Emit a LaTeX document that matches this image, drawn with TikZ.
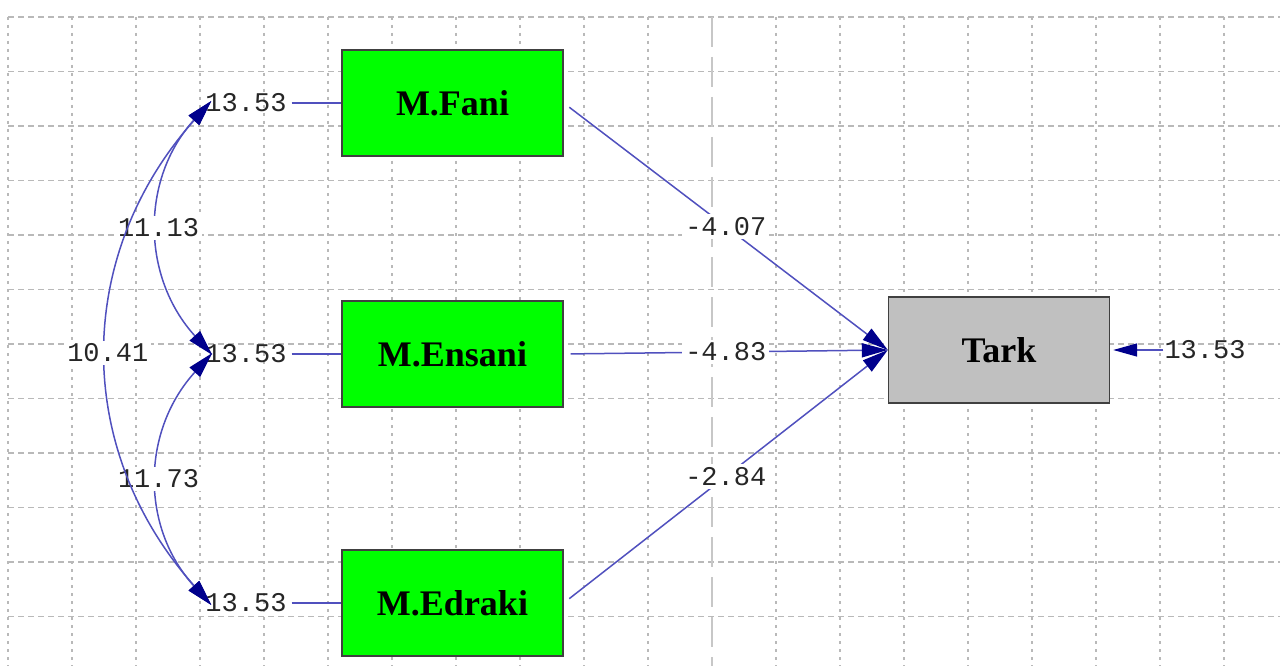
\documentclass[tikz,border=0pt]{standalone}
\usepackage{fontspec}
\setmonofont{Liberation Mono}
\newfontfamily\boxfont{Liberation Serif}
\usetikzlibrary{arrows.meta}

\definecolor{linkblue}{RGB}{80,80,190}
\definecolor{headblue}{RGB}{0,0,140}
\definecolor{boxgreen}{RGB}{0,255,0}
\definecolor{boxgray}{RGB}{192,192,192}
\definecolor{gridgray}{RGB}{185,185,185}

\begin{document}
\begin{tikzpicture}[x=1pt,y=-1pt,
    >={Triangle[length=26pt,width=14pt,color=headblue]},
    var/.style={draw=black!75, line width=1.4pt, minimum width=221pt,
        minimum height=106pt, font=\boxfont\bfseries\fontsize{36}{36}\selectfont},
    num/.style={font=\ttfamily\fontsize{27}{27}\selectfont, text=black!85, inner sep=1pt},
    lbl/.style={num, fill=white, inner sep=3pt},
    link/.style={draw=linkblue, line width=1.5pt},
    gridh/.style={gridgray, line width=1.3pt, dash pattern=on 6pt off 4pt},
    gridv/.style={gridgray, line width=1.3pt, dash pattern=on 3pt off 5pt}]

    % Размер картинки
    \useasboundingbox (0,0) rectangle (1280,666);
    \fill[white] (0,0) rectangle (1280,666);

    % Сетка
    \foreach \k in {0,...,11}
        \draw[gridh] (8,17+54.5*\k) -- (1280,17+54.5*\k);
    \foreach \k in {0,...,19}
    {
        \ifnum\k=11
            \draw[gridgray!80, line width=1.5pt, dash pattern=on 30pt off 10pt] (8+64*\k,17) -- (8+64*\k,666);
        \else
            \draw[gridv] (8+64*\k,17) -- (8+64*\k,666);
        \fi
    }

    % Переменные
    \node[var, fill=boxgreen] (fani)   at (452.5,103) {M.Fani};
    \node[var, fill=boxgreen] (ensani) at (452.5,354) {M.Ensani};
    \node[var, fill=boxgreen] (edraki) at (452.5,603) {M.Edraki};
    \node[var, fill=boxgray]  (tark)   at (999,350)   {Tark};

    % Ошибки
    \node[num] (efani)   at (246,103) {13.53};
    \node[num] (eensani) at (246,354) {13.53};
    \node[num] (eedraki) at (246,603) {13.53};
    \node[num] (etark)   at (1205,350) {13.53};

    \draw[link, shorten <=4pt] (efani) -- (fani);
    \draw[link, shorten <=4pt] (eensani) -- (ensani);
    \draw[link, shorten <=4pt] (eedraki) -- (edraki);
    \draw[link, ->, >={Triangle[length=24pt,width=13pt,color=headblue]}, shorten >=3pt] (etark) -- (tark);

    % Ковариации
    \draw[link, <->] ([xshift=7pt,yshift=2pt]efani.west)
        .. controls +(-71,78) and +(-71,-78) .. ([xshift=8pt,yshift=-1pt]eensani.west)
        node[lbl, pos=0.5] {11.13};
    \draw[link, <->] ([xshift=8pt,yshift=1pt]eensani.west)
        .. controls +(-71,78) and +(-71,-78) .. ([xshift=7pt,yshift=-2pt]eedraki.west)
        node[lbl, pos=0.5] {11.73};
    \draw[link, <->] ([xshift=7pt,yshift=2pt]efani.west)
        .. controls +(-138,155) and +(-138,-155) .. ([xshift=7pt,yshift=-2pt]eedraki.west)
        node[lbl, pos=0.5] {10.41};

    % Пути
    \draw[link, ->, shorten <=7pt] (fani.east) -- (tark.west) node[lbl, pos=0.5] {-4.07};
    \draw[link, ->, shorten <=7pt] (ensani.east) -- (tark.west) node[lbl, pos=0.5] {-4.83};
    \draw[link, ->, shorten <=7pt] (edraki.east) -- (tark.west) node[lbl, pos=0.5] {-2.84};
\end{tikzpicture}
\end{document}
